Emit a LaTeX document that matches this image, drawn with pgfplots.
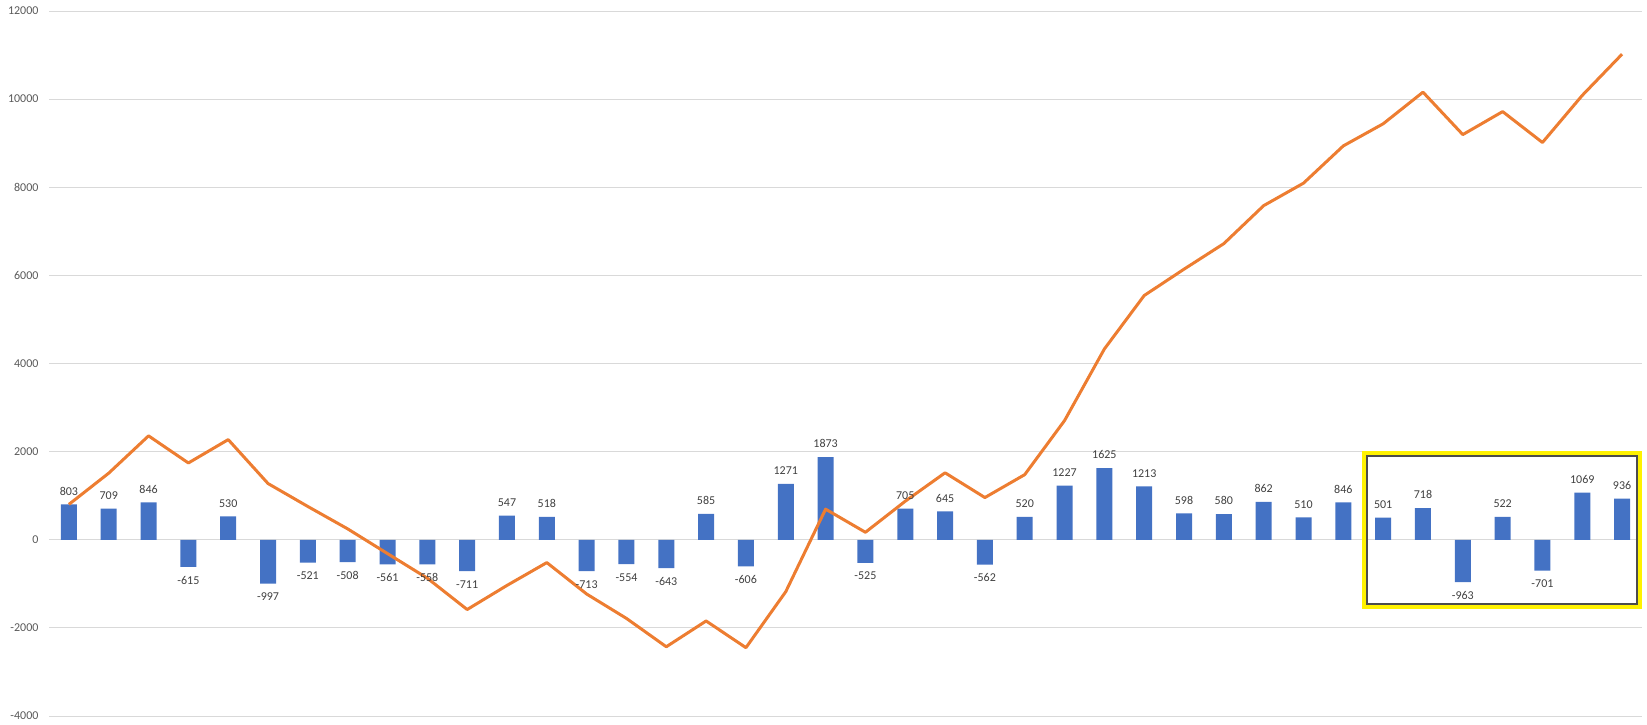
\documentclass[border=0pt]{standalone}
\usepackage{pgfplots}
\pgfplotsset{compat=1.18}
\usepackage{fontspec}
\setmainfont{Carlito}
\definecolor{barblue}{HTML}{4472C4}
\definecolor{lineorange}{HTML}{ED7D31}
\definecolor{tickgray}{HTML}{595959}
\definecolor{labgray}{HTML}{404040}
\definecolor{gridgray}{HTML}{D9D9D9}
\begin{document}
\begin{tikzpicture}
\begin{axis}[
  scale only axis,
  width=1593pt, height=705pt,
  xmin=0.5, xmax=40.5,
  ymin=-4000, ymax=12000,
  ytick={-4000,-2000,0,2000,4000,6000,8000,10000,12000},
  scaled y ticks=false,
  xtick=\empty,
  ymajorgrids,
  major grid style={gridgray, line width=0.8pt},
  axis line style={draw=none},
  major tick length=0pt,
  /pgf/number format/assume math mode=true,
  /pgf/number format/1000 sep={},
  yticklabel style={font=\fontsize{12}{14}\selectfont, text=tickgray, xshift=-7pt},
  clip=false,
]
\addplot[ybar, bar width=16pt, bar shift=0pt, fill=barblue, draw=none,
  nodes near coords,
  visualization depends on=rawy \as \rawy,
  every node near coord/.append style={
    font=\fontsize{12}{14}\selectfont, text=labgray,
    inner xsep=0pt, inner ysep=9pt,
    anchor={\ifdim\rawy pt<0pt north\else south\fi}},
] coordinates {
(1,803) (2,709) (3,846) (4,-615) (5,530) (6,-997) (7,-521) (8,-508) (9,-561) (10,-558)
(11,-711) (12,547) (13,518) (14,-713) (15,-554) (16,-643) (17,585) (18,-606) (19,1271) (20,1873)
(21,-525) (22,705) (23,645) (24,-562) (25,520) (26,1227) (27,1625) (28,1213) (29,598) (30,580)
(31,862) (32,510) (33,846) (34,501) (35,718) (36,-963) (37,522) (38,-701) (39,1069) (40,936)
};
\addplot[lineorange, line width=3pt, no markers, line join=round] coordinates {
(1,803) (2,1512) (3,2358) (4,1743) (5,2273) (6,1276) (7,755) (8,247) (9,-314) (10,-872)
(11,-1583) (12,-1036) (13,-518) (14,-1231) (15,-1785) (16,-2428) (17,-1843) (18,-2449) (19,-1178) (20,695)
(21,170) (22,875) (23,1520) (24,958) (25,1478) (26,2705) (27,4330) (28,5543) (29,6141) (30,6721)
(31,7583) (32,8093) (33,8939) (34,9440) (35,10158) (36,9195) (37,9717) (38,9016) (39,10085) (40,11021)
};
\draw[black!70, line width=1.5pt] (axis cs:33.595,1906) rectangle (axis cs:40.38,-1453);
\draw[yellow, line width=4pt] (axis cs:33.52,1975) rectangle (axis cs:40.45,-1521);
\end{axis}
\pgfresetboundingbox
\path[use as bounding box] ([shift={(-49pt,-8pt)}]current axis.south west) rectangle ([shift={(5pt,11pt)}]current axis.north east);
\end{tikzpicture}
\end{document}
